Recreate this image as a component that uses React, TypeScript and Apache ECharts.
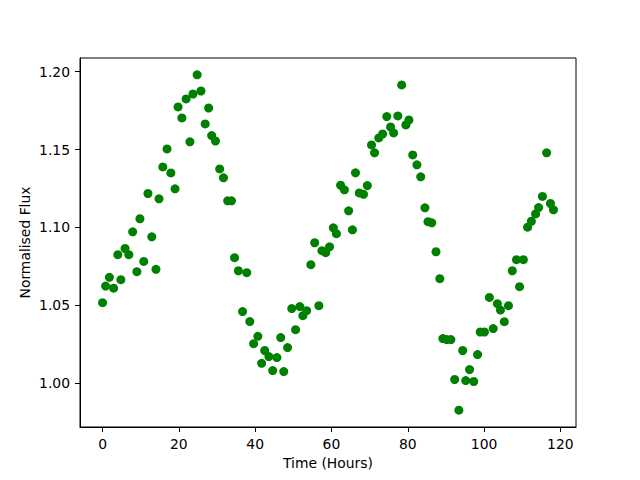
import React, { useEffect, useRef } from "react";
import * as echarts from "echarts";

const times: number[] = [
  0.0, 0.8, 1.8, 2.9, 4.0, 4.8, 5.9, 6.9, 7.9, 9.0,
  9.8, 10.8, 11.9, 12.9, 14.0, 14.8, 15.8, 16.9, 17.9, 19.0,
  19.8, 20.8, 21.9, 22.9, 23.7, 24.8, 25.8, 26.9, 27.8, 28.6,
  29.6, 30.7, 31.7, 32.8, 33.8, 34.6, 35.6, 36.7, 37.8, 38.6,
  39.6, 40.7, 41.7, 42.5, 43.6, 44.6, 45.7, 46.7, 47.5, 48.5,
  49.6, 50.6, 51.7, 52.5, 53.5, 54.6, 55.6, 56.7, 57.5, 58.5,
  59.5, 60.5, 61.3, 62.4, 63.4, 64.5, 65.5, 66.3, 67.3, 68.4,
  69.4, 70.5, 71.3, 72.4, 73.4, 74.5, 75.5, 76.3, 77.4, 78.4,
  79.5, 80.3, 81.3, 82.4, 83.4, 84.5, 85.3, 86.3, 87.4, 88.4,
  89.2, 90.2, 91.3, 92.3, 93.4, 94.4, 95.2, 96.2, 97.3, 98.3,
  99.0, 100.1, 101.4, 102.4, 103.5, 104.3, 105.3, 106.4, 107.4, 108.5,
  109.3, 110.3, 111.4, 112.4, 113.5, 114.3, 115.3, 116.4, 117.4, 118.2,
];

const flux: number[] = [
  1.0517, 1.0624, 1.068, 1.061, 1.0825, 1.0665, 1.0865, 1.0825, 1.0972, 1.0716,
  1.1056, 1.0782, 1.1218, 1.094, 1.0731, 1.1184, 1.1389, 1.1504, 1.135, 1.1248,
  1.1774, 1.1703, 1.1825, 1.155, 1.1857, 1.198, 1.1876, 1.1665, 1.1767, 1.159,
  1.1555, 1.1376, 1.1319, 1.1171, 1.1171, 1.0806, 1.0722, 1.046, 1.071, 1.0396,
  1.0254, 1.0301, 1.0128, 1.021, 1.0171, 1.0081, 1.0165, 1.0293, 1.0075, 1.0229,
  1.0479, 1.0344, 1.0492, 1.0434, 1.0466, 1.0761, 1.0902, 1.0498, 1.0851, 1.0838,
  1.0876, 1.0998, 1.096, 1.1271, 1.1242, 1.1107, 1.0985, 1.1351, 1.1222, 1.1213,
  1.1269, 1.153, 1.1479, 1.1575, 1.16, 1.1712, 1.1645, 1.1607, 1.1716, 1.1915,
  1.1658, 1.169, 1.1466, 1.1402, 1.1325, 1.1126, 1.1037, 1.103, 1.0844, 1.0671,
  1.0287, 1.028, 1.028, 1.0024, 0.9827, 1.021, 1.0017, 1.0088, 1.0011, 1.0184,
  1.0329, 1.0329, 1.0551, 1.0351, 1.0511, 1.047, 1.0395, 1.0498, 1.0722, 1.0793,
  1.062, 1.0793, 1.1002, 1.104, 1.1087, 1.1128, 1.1199, 1.1479, 1.1154, 1.1113,
];

const xTicks: number[] = [0, 20, 40, 60, 80, 100, 120];
const yTicks: number[] = [1.0, 1.05, 1.1, 1.15, 1.2];

const xLabel = "Time (Hours)";
const yLabel = "Normalised Flux";

export default function App() {
  const ref = useRef<HTMLDivElement>(null);
  useEffect(() => {
    if (!ref.current) return;
    const chart = echarts.init(ref.current, null, { renderer: "svg" });
    const font = "DejaVu Sans";
    const xMin = -5.91, xMax = 124.1;
    const yMin = 0.9719, yMax = 1.2088;
    chart.setOption({
      animation: false,
      textStyle: { fontFamily: font },
      grid: {
        left: 80, top: 58, width: 496, height: 369,
        show: true, borderColor: "#000", borderWidth: 1, backgroundColor: "#fff",
      },
      xAxis: {
        type: "value", min: xMin, max: xMax,
        name: xLabel, nameLocation: "middle", nameGap: 29, nameMoveOverlap: false,
        nameTextStyle: { fontFamily: font, fontSize: 13.9, color: "#000" },
        axisLine: { show: true, onZero: false, lineStyle: { color: "#000", width: 1 } },
        axisTick: { show: true, length: 5, lineStyle: { color: "#000" }, customValues: xTicks },
        axisLabel: { color: "#000", fontSize: 13.9, fontFamily: font, margin: 10, customValues: xTicks,
          formatter: (v: number) => String(Math.round(v)) },
        splitLine: { show: false },
      },
      yAxis: {
        type: "value", min: yMin, max: yMax,
        name: yLabel, nameLocation: "middle", nameGap: 48, nameRotate: 90, nameMoveOverlap: false,
        nameTextStyle: { fontFamily: font, fontSize: 13.9, color: "#000" },
        axisLine: { show: true, onZero: false, lineStyle: { color: "#000", width: 1 } },
        axisTick: { show: true, length: 5, lineStyle: { color: "#000" }, customValues: yTicks },
        axisLabel: { color: "#000", fontSize: 13.9, fontFamily: font, margin: 10, customValues: yTicks,
          formatter: (v: number) => v.toFixed(2) },
        splitLine: { show: false },
      },
      series: [
        {
          type: "scatter",
          data: times.map((t, i) => [t, flux[i]]),
          symbol: "circle",
          symbolSize: 9,
          itemStyle: { color: "#008000", opacity: 1 },
        },
      ],
    });
    return () => chart.dispose();
  }, []);
  return <div ref={ref} style={{ width: 640, height: 480, position: "absolute", left: 0, top: 0 }} />;
}
